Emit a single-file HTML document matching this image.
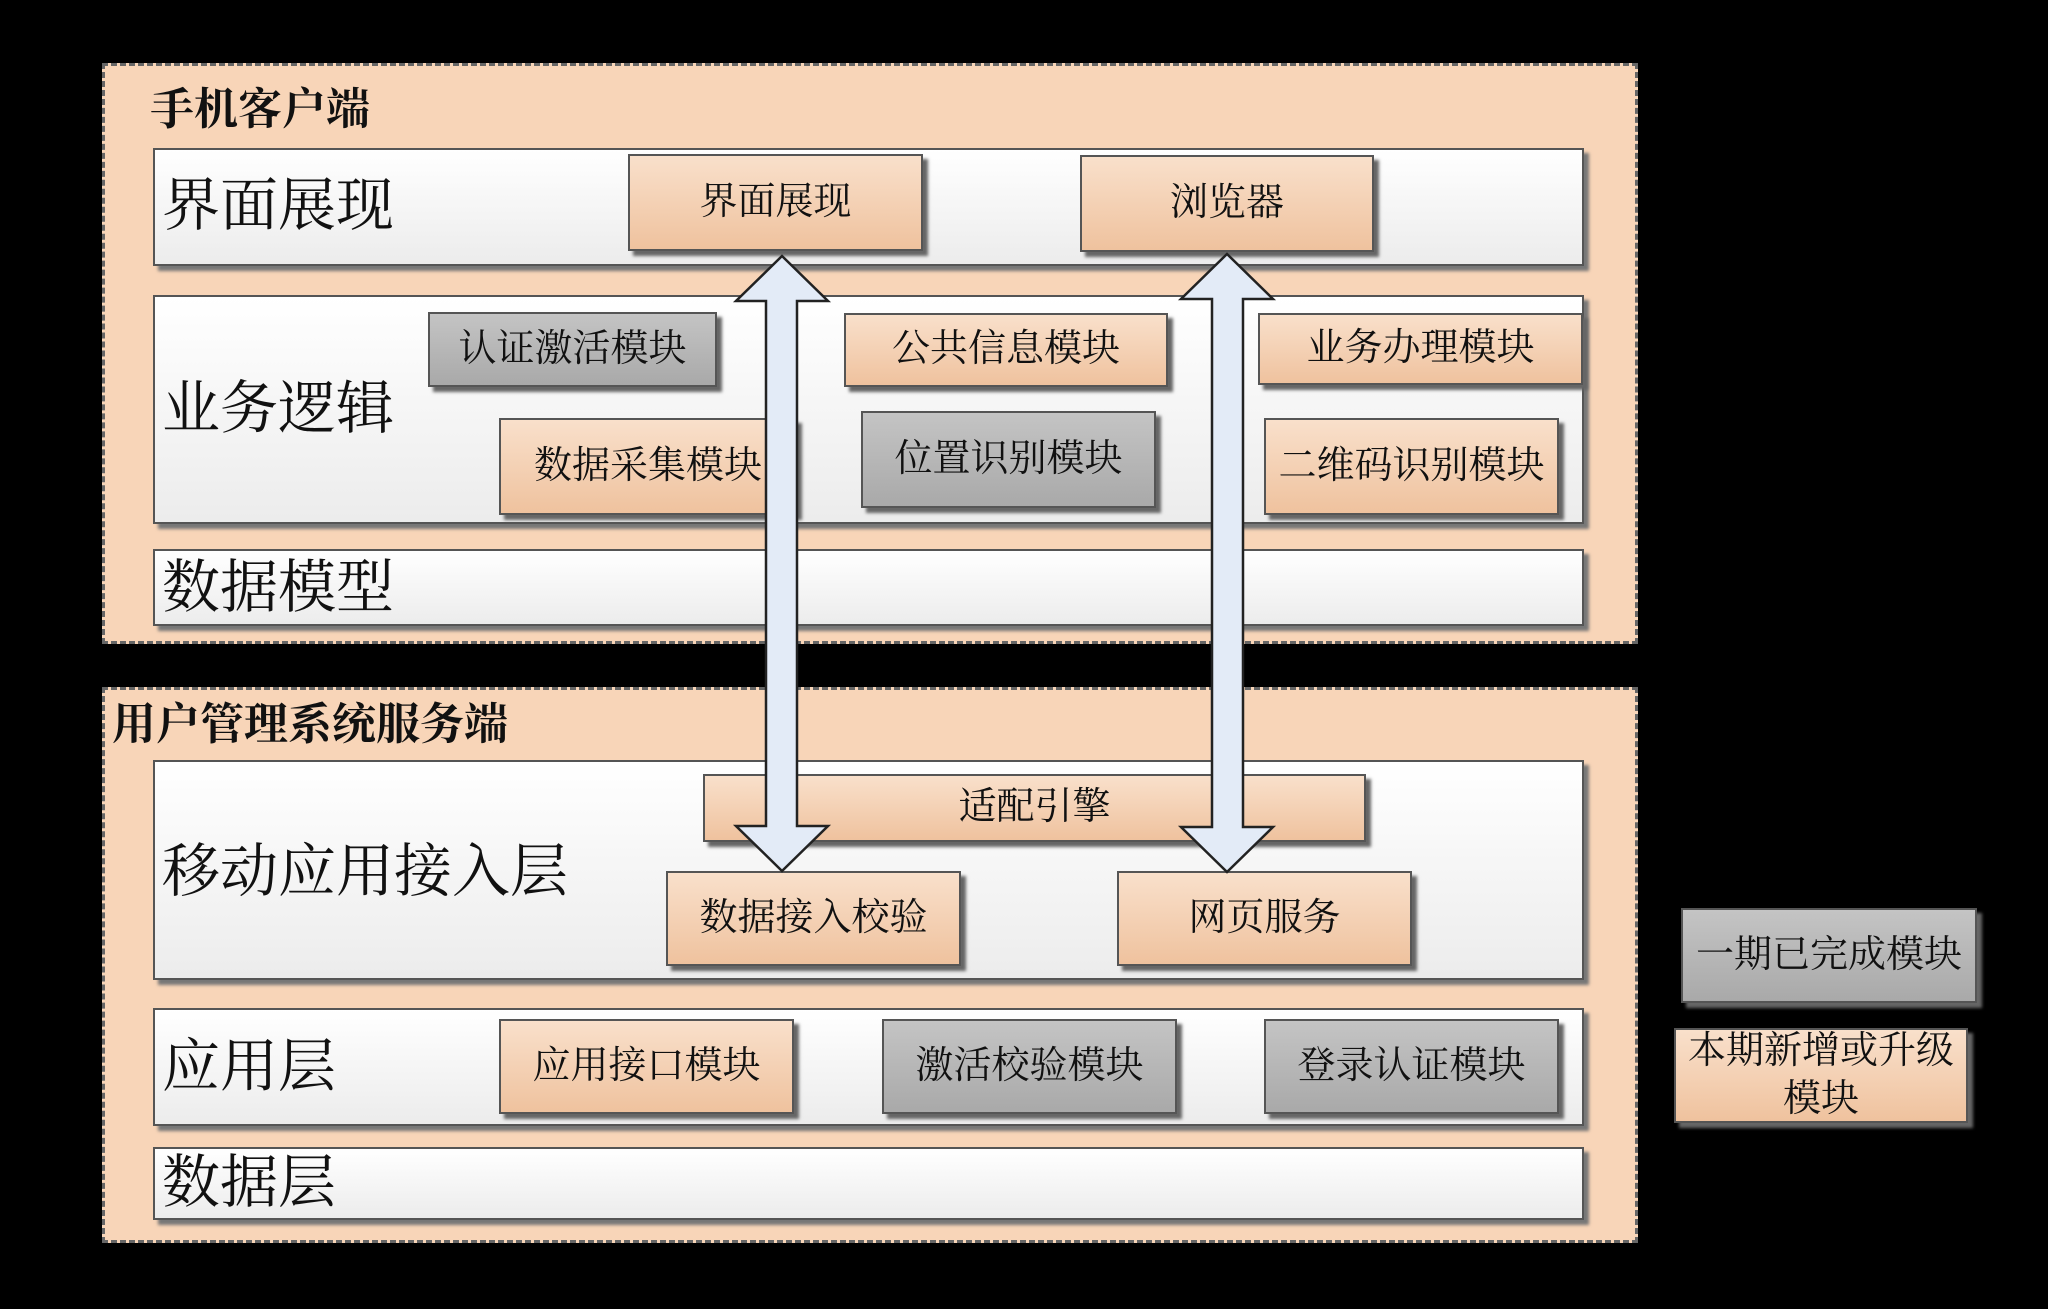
<!DOCTYPE html>
<html><head><meta charset="utf-8"><style>
body{margin:0;width:2048px;height:1309px;background:#000;position:relative;overflow:hidden;font-family:"Liberation Serif","Noto Serif CJK SC",serif;}
.outer{position:absolute;background:#f8d5b8;border:3px dashed #666;box-sizing:border-box;}
.row{position:absolute;background:linear-gradient(#fff,#ececec);border:2px solid #555;box-sizing:border-box;box-shadow:5px 5px 3px #777;}
.rl{position:absolute;font-size:58px;color:#111;line-height:1;white-space:nowrap;}
.b{position:absolute;border:2px solid #555;box-sizing:border-box;box-shadow:5px 5px 3px #666;display:flex;align-items:center;justify-content:center;font-size:38px;color:#111;white-space:nowrap;text-align:center;line-height:1.25;}
.o{background:linear-gradient(#f9e0cb,#efc29e);}
.g{background:linear-gradient(#c4c4c4,#a9a9a9);}
.t{position:absolute;font-size:44px;font-weight:bold;color:#111;line-height:1;}
</style></head><body>
<div class="outer" style="left:102px;top:63px;width:1536px;height:581px"></div>
<div class="t" style="left:150px;top:88px">手机客户端</div>
<div class="row" style="left:153px;top:148px;width:1431px;height:118px"></div>
<div class="rl" style="left:162px;top:177px">界面展现</div>
<div class="b o" style="left:628px;top:154px;width:295px;height:97px">界面展现</div>
<div class="b o" style="left:1080px;top:155px;width:294px;height:97px">浏览器</div>
<div class="row" style="left:153px;top:295px;width:1431px;height:229px"></div>
<div class="rl" style="left:162px;top:380px">业务逻辑</div>
<div class="b g" style="left:428px;top:312px;width:289px;height:75px">认证激活模块</div>
<div class="b o" style="left:844px;top:313px;width:324px;height:74px">公共信息模块</div>
<div class="b o" style="left:1258px;top:313px;width:325px;height:72px">业务办理模块</div>
<div class="b o" style="left:499px;top:418px;width:298px;height:97px">数据采集模块</div>
<div class="b g" style="left:861px;top:411px;width:295px;height:97px">位置识别模块</div>
<div class="b o" style="left:1264px;top:418px;width:295px;height:97px">二维码识别模块</div>
<div class="row" style="left:153px;top:549px;width:1431px;height:77px"></div>
<div class="rl" style="left:162px;top:559px">数据模型</div>

<div class="outer" style="left:102px;top:687px;width:1536px;height:556px"></div>
<div class="t" style="left:112px;top:703px">用户管理系统服务端</div>
<div class="row" style="left:153px;top:760px;width:1431px;height:220px"></div>
<div class="rl" style="left:162px;top:843px">移动应用接入层</div>
<div class="b o" style="left:703px;top:774px;width:663px;height:68px">适配引擎</div>
<div class="b o" style="left:666px;top:871px;width:295px;height:95px">数据接入校验</div>
<div class="b o" style="left:1117px;top:871px;width:295px;height:95px">网页服务</div>
<div class="row" style="left:153px;top:1008px;width:1431px;height:118px"></div>
<div class="rl" style="left:162px;top:1038px">应用层</div>
<div class="b o" style="left:499px;top:1019px;width:295px;height:95px">应用接口模块</div>
<div class="b g" style="left:882px;top:1019px;width:295px;height:95px">激活校验模块</div>
<div class="b g" style="left:1264px;top:1019px;width:295px;height:95px">登录认证模块</div>
<div class="row" style="left:153px;top:1147px;width:1431px;height:73px"></div>
<div class="rl" style="left:162px;top:1154px">数据层</div>

<div class="b g" style="left:1681px;top:908px;width:296px;height:95px">一期已完成模块</div>
<div class="b o" style="left:1674px;top:1028px;width:294px;height:95px">本期新增或升级<br>模块</div>

<svg width="2048" height="1309" style="position:absolute;left:0;top:0">
<polygon points="782,256 828,301 797,301 797,826 828,826 782,871 736,826 766,826 766,301 736,301" fill="#e3ebf7" stroke="#222" stroke-width="2.5"/>
<polygon points="1227,254 1273,299 1243,299 1243,827 1273,827 1227,872 1181,827 1212,827 1212,299 1181,299" fill="#e3ebf7" stroke="#222" stroke-width="2.5"/>
</svg>
</body></html>
